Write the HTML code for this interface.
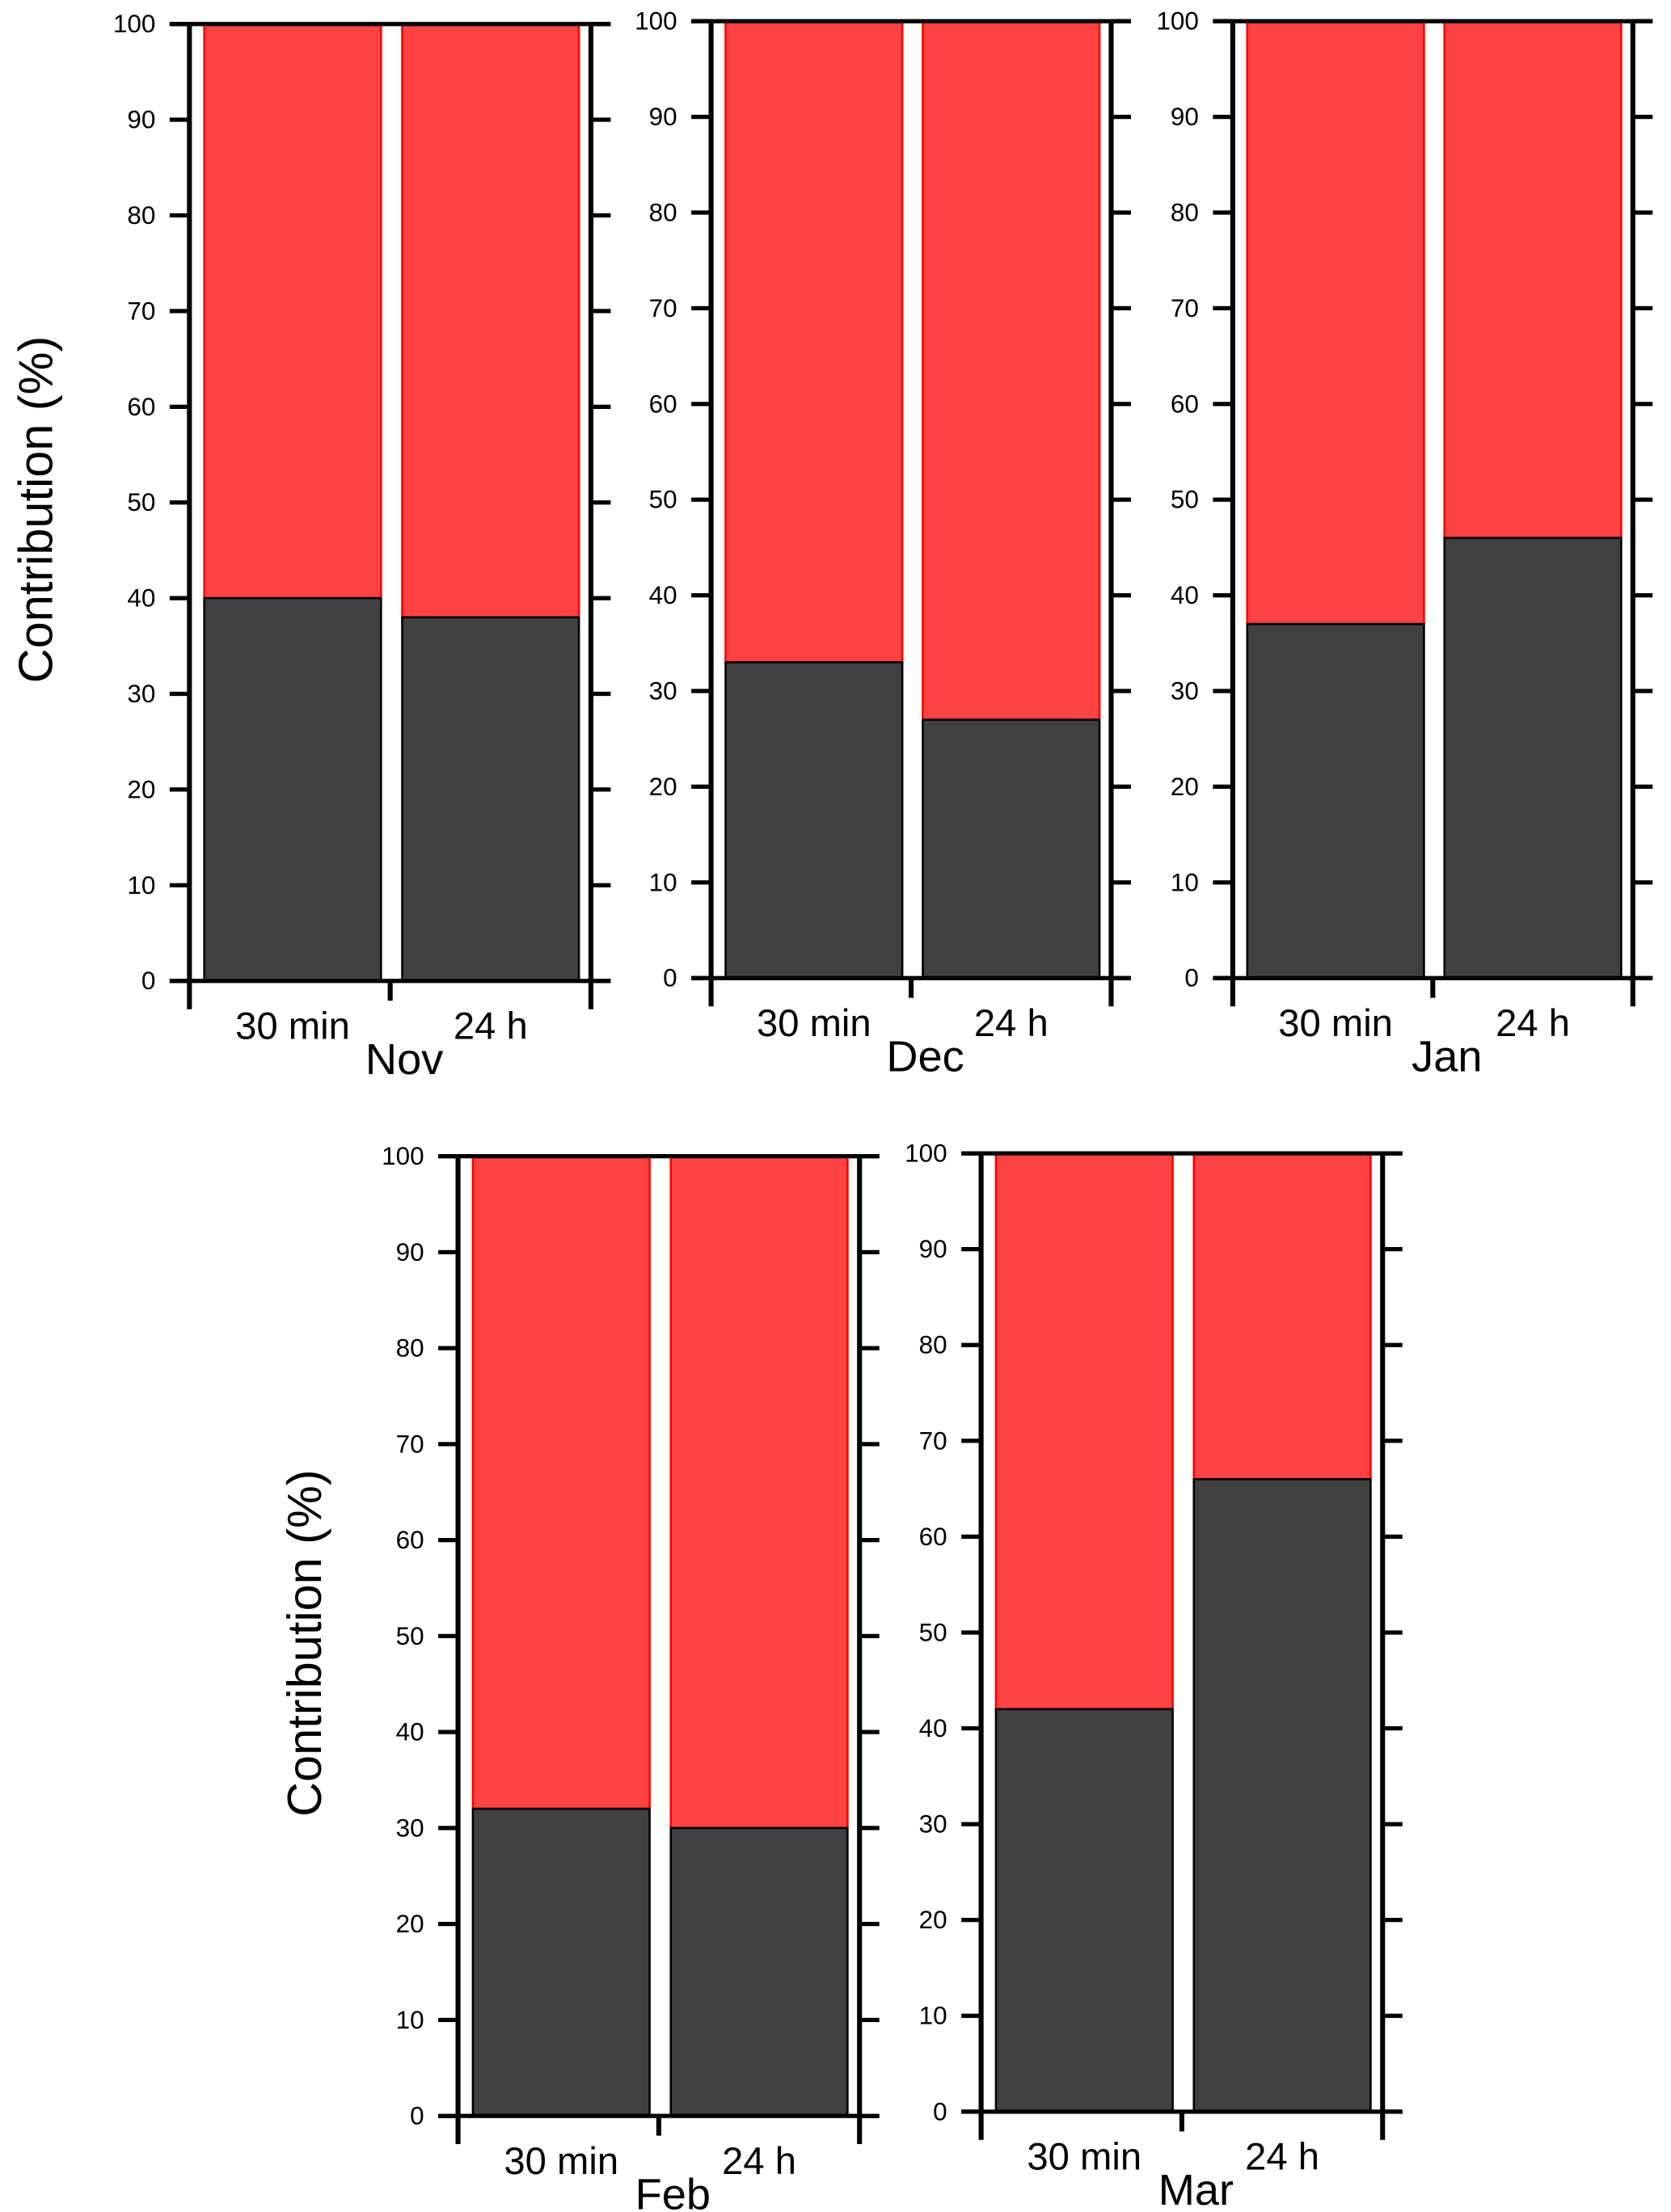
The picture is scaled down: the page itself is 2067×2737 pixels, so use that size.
<!DOCTYPE html>
<html><head><meta charset="utf-8"><style>
html,body{margin:0;padding:0;background:#fff;}
svg{display:block;}
text{font-family:"Liberation Sans",sans-serif;fill:#000;}
</style></head>
<body>
<svg id="chart" width="2067" height="2737" viewBox="0 0 1182 1565" preserveAspectRatio="none" xmlns="http://www.w3.org/2000/svg"></svg>
<script>
const months = ["Nov","Dec","Jan","Feb","Mar"];
const categories = ["30 min","24 h"];
const darkValues = [[40,38],[33,27],[37,46],[32,30],[42,66]];
const yTicks = [0,10,20,30,40,50,60,70,80,90,100];
const yTitle = "Contribution (%)";

const panels = [
  {l:134,r:418,t:17,b:694,title:true,tx:25},
  {l:503,r:786,t:15,b:692},
  {l:872,r:1155,t:15,b:692},
  {l:324,r:608,t:818,b:1497,title:true,tx:215},
  {l:694,r:978,t:816,b:1494}
];
const svg = document.getElementById('chart');
const NS = "http://www.w3.org/2000/svg";
function mk(tag, attrs, parent){
  const e = document.createElementNS(NS, tag);
  for (const k in attrs) e.setAttribute(k, attrs[k]);
  (parent||svg).appendChild(e);
  return e;
}
panels.forEach((p, i) => {
  const g = mk('g', {});
  
  
  const y = v => p.b - (v/100)*(p.b - p.t);
  const w = p.r - p.l;
  const slot = w/2;
  const barW = 125;
  categories.forEach((c, j) => {
    const cx = p.l + slot*(j+0.5) + (j===0?2:0);
    const x0 = cx - barW/2;
    const dv = darkValues[i][j];
    const red = mk('rect', {x:x0, y:y(100), width:barW, height:y(dv)-y(100), fill:'#ff4242', stroke:'#ff0000', 'stroke-width':1.5}, g);
    
    
    const dark = mk('rect', {x:x0, y:y(dv), width:barW, height:y(0)-y(dv), fill:'#404040', stroke:'#000', 'stroke-width':1.5}, g);
    
    
    const lab = mk('text', {x:cx, y:p.b+41, 'font-size':27, 'text-anchor':'middle'}, g);
    lab.textContent = c;
    
    
  });
  // axes
  mk('line', {x1:p.l, y1:p.t, x2:p.l, y2:p.b+20, stroke:'#000', 'stroke-width':3.5}, g);
  mk('line', {x1:p.r, y1:p.t, x2:p.r, y2:p.b+20, stroke:'#000', 'stroke-width':3.5}, g);
  mk('line', {x1:p.l-14, y1:p.t, x2:p.r+14, y2:p.t, stroke:'#000', 'stroke-width':3}, g);
  mk('line', {x1:p.l-14, y1:p.b, x2:p.r+14, y2:p.b, stroke:'#000', 'stroke-width':3}, g);
  mk('line', {x1:p.l+w/2, y1:p.b, x2:p.l+w/2, y2:p.b+14, stroke:'#000', 'stroke-width':3.5}, g);
  yTicks.forEach(v => {
    mk('line', {x1:p.l-14, y1:y(v), x2:p.l, y2:y(v), stroke:'#000', 'stroke-width':3}, g);
    mk('line', {x1:p.r, y1:y(v), x2:p.r+14, y2:y(v), stroke:'#000', 'stroke-width':3}, g);
    const t = mk('text', {x:p.l-24, y:y(v)+6, 'font-size':18, 'text-anchor':'end'}, g);
    t.textContent = v;
    
    
  });
  const m = mk('text', {x:p.l+w/2+10, y:p.b+66, 'font-size':31, 'text-anchor':'middle'}, g);
  m.textContent = months[i];
  
  
  if (p.title) {
    const cy = (p.t+p.b)/2;
    const tt = mk('text', {x:p.tx+12, y:cy+5, 'font-size':34, 'text-anchor':'middle', transform:`rotate(-90 ${p.tx+12} ${cy+5})`}, g);
    tt.textContent = yTitle;
    
    
  }
});
</script>
</body></html>
